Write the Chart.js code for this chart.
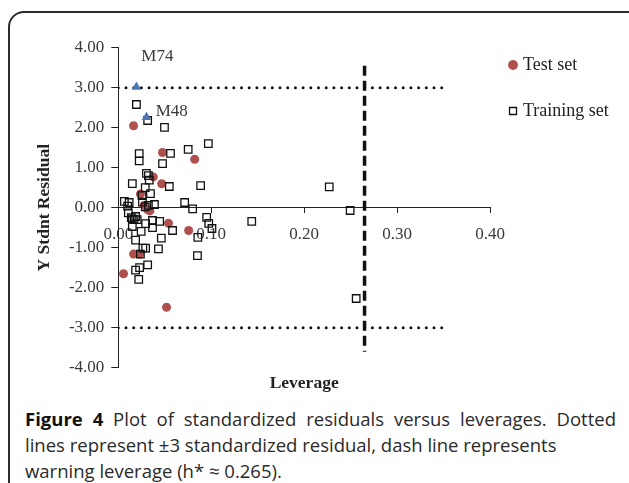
<!DOCTYPE html>
<html>
<head>
<meta charset="utf-8">
<title>Figure 4 - Residuals vs leverage</title>
<script src="https://cdn.jsdelivr.net/npm/chart.js@4.4.1/dist/chart.umd.min.js"></script>
<style>
  html, body { margin: 0; padding: 0; background: #fff; overflow: hidden; }
  body { width: 629px; height: 483px; position: relative; }
  .frame { position: absolute; left: 8px; top: 11px; width: 700px; height: 600px; border: 2px solid #2b2b2b; border-radius: 16px; }
  #chart { position: absolute; left: 0; top: 0; }
  .caption { position: absolute; left: 25px; width: 591px; font-family: 'Open Sans', sans-serif; font-size: 18.5px; line-height: 26px; color: #2a2a2a; white-space: nowrap; }
  .caption b { color: #111; }
  .justify { text-align: justify; text-align-last: justify; white-space: normal; }
</style>
</head>
<body>
<div class="frame"></div>
<canvas id="chart" width="629" height="400"></canvas>
<div class="caption justify" style="top:406px"><b>Figure 4</b> Plot of standardized residuals versus leverages. Dotted</div>
<div class="caption" style="top:432px">lines represent ±3 standardized residual, dash line represents</div>
<div class="caption" style="top:458px">warning leverage (h* ≈ 0.265).</div>
<script>
// training set (squares)
const trainLeverage = [
    0.0195, 0.0316, 0.0497, 0.0969, 0.0752, 0.0225, 0.0562, 0.0225, 0.0476, 0.0303,
    0.0324, 0.0333, 0.0151, 0.0886, 0.0549, 0.2270, 0.0290, 0.0346, 0.0255, 0.0065,
    0.0117, 0.0260, 0.0714, 0.0389, 0.0324, 0.0100, 0.0290, 0.0800, 0.2495, 0.0108,
    0.0186, 0.0140, 0.0151, 0.0203, 0.0170, 0.0951, 0.0368, 0.0445, 0.1436, 0.0294,
    0.0973, 0.0151, 0.0368, 0.1008, 0.0584, 0.0246, 0.0856, 0.0463, 0.0186, 0.0264,
    0.0294, 0.0432, 0.0238, 0.0852, 0.0316, 0.0229, 0.0186, 0.0220, 0.2560
];
const trainResidual = [
    2.58, 2.18, 2.01, 1.60, 1.46, 1.35, 1.36, 1.17, 1.10, 0.86,
    0.80, 0.69, 0.60, 0.55, 0.53, 0.52, 0.50, 0.35, 0.30, 0.16,
    0.13, 0.14, 0.13, 0.08, 0.06, 0.04, 0.02, -0.03, -0.07, -0.13,
    -0.22, -0.25, -0.28, -0.30, -0.30, -0.24, -0.32, -0.34, -0.34, -0.40,
    -0.39, -0.47, -0.50, -0.52, -0.57, -0.59, -0.74, -0.76, -0.81, -1.01,
    -1.01, -1.03, -1.16, -1.20, -1.43, -1.50, -1.56, -1.79, -2.27
];

// test set (red circles)
const testLeverage = [
    0.0164, 0.0476, 0.0822, 0.0376, 0.0467, 0.0238, 0.0280, 0.0316, 0.0340, 0.0540,
    0.0757, 0.0164, 0.0229, 0.0056, 0.0519
];
const testResidual = [
    2.05, 1.38, 1.21, 0.77, 0.60, 0.34, 0.06, -0.05, -0.08, -0.39,
    -0.57, -1.16, -1.16, -1.65, -2.49
];

// flagged compounds (blue triangles) and their labels
const outlierNames = ['M74', 'M48'];
const outlierLeverage = [0.0195, 0.0303];
const outlierResidual = [3.02, 2.26];
const outlierNameLeverage = [0.042, 0.0575];
const outlierNameResidual = [3.78, 2.41];

// reference lines
const residualLimit = 3;
const limitLineEnd = 0.35;
const warningLeverage = 0.265;
const warningLineRange = [-3.6, 3.55];

const serif = '"Liberation Serif", "Times New Roman", serif';

function toPoints(xs, ys) {
    return xs.map((x, i) => ({ x: x, y: ys[i] }));
}

const outlierLabels = {
    id: 'outlierLabels',
    afterDatasetsDraw(chart) {
        const { ctx, scales: { x, y } } = chart;
        ctx.save();
        ctx.font = '17px ' + serif;
        ctx.fillStyle = '#3a3a3a';
        ctx.textAlign = 'center';
        ctx.textBaseline = 'middle';
        outlierNames.forEach((name, i) => {
            ctx.fillText(name, x.getPixelForValue(outlierNameLeverage[i]), y.getPixelForValue(outlierNameResidual[i]));
        });
        ctx.restore();
    }
};

// move the legend up/left into the spot it has in the figure
const legendPlacement = {
    id: 'legendPlacement',
    afterLayout(chart) {
        const legend = chart.legend;
        if (!legend) return;
        const dx = 484 - legend.left;
        const dy = 28 - legend.top;
        legend.left += dx; legend.right += dx;
        legend.top += dy; legend.bottom += dy;
    }
};

new Chart(document.getElementById('chart'), {
    type: 'scatter',
    data: {
        datasets: [
            {
                label: 'Test set',
                data: toPoints(testLeverage, testResidual),
                pointStyle: 'circle',
                pointRadius: 4.5,
                backgroundColor: '#b0504e',
                borderColor: '#b0504e',
                borderWidth: 0,
                order: 2
            },
            {
                label: 'Training set',
                data: toPoints(trainLeverage, trainResidual),
                pointStyle: 'rect',
                pointRadius: 5.3,
                backgroundColor: 'rgba(255,255,255,0)',
                borderColor: '#111',
                borderWidth: 1.3,
                order: 1
            },
            {
                label: 'Outliers',
                data: toPoints(outlierLeverage, outlierResidual),
                pointStyle: 'triangle',
                pointRadius: 5.5,
                backgroundColor: '#4a76b5',
                borderWidth: 0,
                order: 0
            },
            {
                label: '+3',
                data: [{ x: 0, y: residualLimit }, { x: limitLineEnd, y: residualLimit }],
                showLine: true,
                pointRadius: 0,
                borderColor: '#111',
                borderWidth: 3,
                borderDash: [0, 7.7],
                borderCapStyle: 'round',
                order: 3
            },
            {
                label: '-3',
                data: [{ x: 0, y: -residualLimit }, { x: limitLineEnd, y: -residualLimit }],
                showLine: true,
                pointRadius: 0,
                borderColor: '#111',
                borderWidth: 3,
                borderDash: [0, 7.7],
                borderCapStyle: 'round',
                order: 3
            },
            {
                label: 'h*',
                data: [{ x: warningLeverage, y: warningLineRange[1] }, { x: warningLeverage, y: warningLineRange[0] }],
                showLine: true,
                pointRadius: 0,
                borderColor: '#111',
                borderWidth: 3.5,
                borderDash: [10, 5],
                order: 3
            }
        ]
    },
    options: {
        responsive: false,
        animation: false,
        layout: { padding: { left: 0, top: 47.7, right: 10, bottom: 0 } },
        plugins: {
            legend: {
                position: 'right',
                align: 'start',
                maxWidth: 129,
                labels: {
                    usePointStyle: true,
                    boxWidth: 2,
                    boxHeight: 7,
                    padding: 28,
                    color: '#222',
                    font: { family: serif, size: 18 },
                    filter: item => item.datasetIndex < 2,
                    sort: (a, b) => a.datasetIndex - b.datasetIndex
                }
            },
            tooltip: { enabled: false }
        },
        scales: {
            x: {
                type: 'linear',
                position: { y: 0 },
                min: 0,
                max: 0.4,
                ticks: {
                    stepSize: 0.1,
                    callback: v => v.toFixed(2),
                    color: '#3a3a3a',
                    font: { family: serif, size: 17 },
                    padding: 12,
                    maxRotation: 0
                },
                grid: { drawOnChartArea: false, drawTicks: true, tickLength: 5, color: '#222' },
                border: { display: true, color: '#222', width: 1 }
            },
            xTitle: {
                type: 'linear',
                axis: 'x',
                position: 'bottom',
                min: 0,
                max: 0.4,
                ticks: { display: false },
                grid: { display: false },
                border: { display: false },
                title: {
                    display: true,
                    text: 'Leverage',
                    color: '#222',
                    font: { family: serif, size: 17.5, weight: 'bold' },
                    padding: { top: 0, bottom: 6 }
                },
                afterFit(scale) { scale.height = 32.3; }
            },
            y: {
                type: 'linear',
                position: 'left',
                min: -4,
                max: 4,
                ticks: {
                    stepSize: 1,
                    callback: v => v.toFixed(2),
                    color: '#3a3a3a',
                    font: { family: serif, size: 17 },
                    padding: 7
                },
                grid: { drawOnChartArea: false, drawTicks: true, tickLength: 7, color: '#222' },
                border: { display: true, color: '#222', width: 1 },
                title: {
                    display: true,
                    text: 'Y Stdnt Residual',
                    color: '#222',
                    font: { family: serif, size: 17.5, weight: 'bold' },
                    padding: { top: 34, bottom: 0 }
                },
                afterFit(scale) { scale.width = 118.3; }
            }
        }
    },
    plugins: [outlierLabels, legendPlacement]
});
</script>
</body>
</html>
